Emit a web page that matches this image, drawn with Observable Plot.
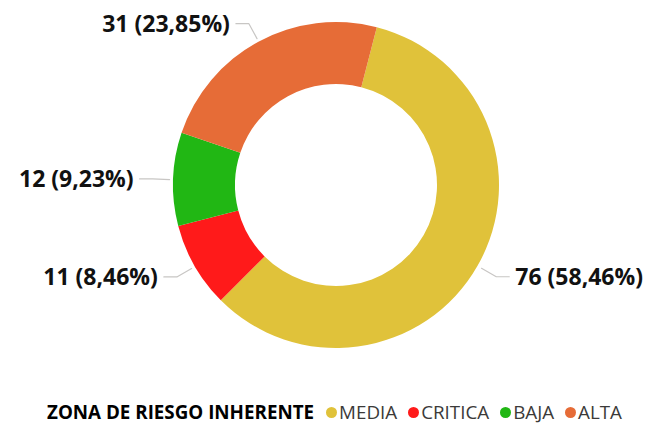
<!DOCTYPE html>
<html>
<head>
<meta charset="utf-8">
<script src="https://cdn.jsdelivr.net/npm/d3@7"></script>
<script src="https://cdn.jsdelivr.net/npm/@observablehq/plot@0.6"></script>
<style>
  html, body { margin: 0; padding: 0; background: #fff; }
  body { width: 649px; height: 425px; overflow: hidden; font-family: "Open Sans", sans-serif; }
  #chart svg { display: block; }
  #legend { height: 33px; display: flex; align-items: flex-end; padding: 0 0 0 47px; box-sizing: border-box; font-size: 18.8px; line-height: normal; color: #3B3A39; white-space: nowrap; }
  #legend .title { font-weight: bold; color: #000; margin-right: 12px; }
  #legend .item { display: flex; align-items: center; margin-right: 11px; }
  #legend .dot { width: 11px; height: 11px; border-radius: 50%; margin-right: 2px; display: inline-block; }
</style>
</head>
<body>
<div id="chart"></div>
<div id="legend"></div>
<script>
const legendTitle = "ZONA DE RIESGO INHERENTE";
const categories = ["MEDIA", "CRITICA", "BAJA", "ALTA"];
const counts = [76, 11, 12, 31];
const colors = ["#E0C23A", "#FF1A1A", "#21B714", "#E66C37"];

const W = 649, H = 392;
const CX = 336, CY = 185, RO = 163, RI = 101;
const START = 14.5 * Math.PI / 180;

const total = d3.sum(counts);
const data = categories.map((cat, i) => ({cat, value: counts[i], color: colors[i]}));
const arcs = d3.pie().sort(null).value(d => d.value).startAngle(START).endAngle(START + 2 * Math.PI)(data);

const fmtPct = v => (v * 100).toFixed(2).replace(".", ",") + "%";
const pt = (a, r) => [CX + r * Math.sin(a), CY - r * Math.cos(a)];

const leaders = [];
const labels = [];
arcs.forEach(a => {
  const mid = (a.startAngle + a.endAngle) / 2;
  const right = Math.sin(mid) > 0;
  const p0 = pt(mid, RO + 4);
  const p1 = pt(mid, RO + 21);
  const p2 = [p1[0] + (right ? 13 : -13), p1[1]];
  [p0, p1, p2].forEach(p => leaders.push({cat: a.data.cat, x: p[0], y: p[1]}));
  labels.push({
    cat: a.data.cat, right,
    x: p2[0] + (right ? 6 : -6), y: p2[1],
    text: `${a.data.value} (${fmtPct(a.data.value / total)})`
  });
});

function donut(index, scales) {
  const k = scales.x(1) - scales.x(0);
  const arc = d3.arc().innerRadius(RI * k).outerRadius(RO * k);
  const g = d3.create("svg:g").attr("transform", `translate(${scales.x(CX)},${scales.y(CY)})`);
  g.selectAll("path").data(arcs).join("path")
    .attr("d", arc)
    .attr("fill", d => d.data.color);
  return g.node();
}

const textOpts = {x: "x", y: "y", text: "text", fontSize: 23, fontWeight: "bold", fill: "#111", fontFamily: "Open Sans", dy: 1};

const chart = Plot.plot({
  width: W, height: H,
  margin: 0,
  style: {background: "#fff", overflow: "visible"},
  x: {domain: [0, W], range: [0, W], axis: null},
  y: {domain: [0, H], range: [0, H], axis: null},
  marks: [
    donut,
    Plot.line(leaders, {x: "x", y: "y", z: "cat", stroke: "#C8C6C4", strokeWidth: 1.2}),
    Plot.text(labels.filter(d => d.right), {...textOpts, textAnchor: "start"}),
    Plot.text(labels.filter(d => !d.right), {...textOpts, textAnchor: "end"})
  ]
});
document.getElementById("chart").appendChild(chart);

const legend = document.getElementById("legend");
const t = document.createElement("span");
t.className = "title";
t.textContent = legendTitle;
legend.appendChild(t);
categories.forEach((c, i) => {
  const item = document.createElement("span");
  item.className = "item";
  const dot = document.createElement("span");
  dot.className = "dot";
  dot.style.background = colors[i];
  item.appendChild(dot);
  item.appendChild(document.createTextNode(c));
  legend.appendChild(item);
});
</script>
</body>
</html>
